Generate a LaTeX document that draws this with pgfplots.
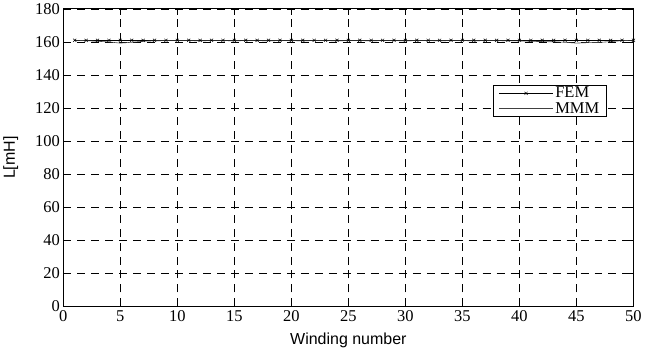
\documentclass[border=0pt]{standalone}
\usepackage{fontspec}
\setmainfont{Liberation Serif}
\newfontfamily\arialf{Liberation Sans}
\usepackage{pgfplots}
\pgfplotsset{compat=1.18}
\begin{document}
\begin{tikzpicture}
\begin{axis}[
  scale only axis,
  width=571pt, height=298pt,
  xmin=0, xmax=50, ymin=0, ymax=180,
  xtick={0,5,...,50}, ytick={0,20,...,180},
  tick align=inside, tick style={black, line width=0.6pt}, major tick length=6pt,
  grid=major, grid style={black, dashed, dash pattern=on 8pt off 6pt, line width=0.6pt},
  axis line style={black, line width=0.8pt},
  ticklabel style={font=\fontsize{16.5}{18}\selectfont},
  xticklabel style={yshift=-1pt},
  yticklabel style={xshift=0pt},
  /pgf/number format/assume math mode=true,
  xlabel={\arialf\fontsize{16}{18}\selectfont Winding number},
  ylabel={\arialf\fontsize{16}{18}\selectfont L[mH]},
  xlabel style={yshift=-4pt},
  ylabel style={yshift=10pt},
  legend style={at={(0.953,0.745)}, anchor=north east, draw=black, line width=0.8pt,
    font=\fontsize{16.5}{18}\selectfont, row sep=-1pt, inner xsep=5pt, inner ysep=0pt},
  legend cell align=left,
  legend image code/.code={\draw[mark repeat=2,mark phase=2,#1] plot coordinates {(0pt,0pt) (27pt,0pt) (54pt,0pt)};},
]
\addplot[black, line width=0.5pt, mark=x, mark size=2.2pt, mark options={line width=0.5pt}]
coordinates {
(1,161)(2,161)(3,161)(4,161)(5,161)(6,161)(7,161)(8,161)(9,161)(10,161)
(11,161)(12,161)(13,161)(14,161)(15,161)(16,161)(17,161)(18,161)(19,161)(20,161)
(21,161)(22,161)(23,161)(24,161)(25,161)(26,161)(27,161)(28,161)(29,161)(30,161)
(31,161)(32,161)(33,161)(34,161)(35,161)(36,161)(37,161)(38,161)(39,161)(40,161)
(41,161)(42,161)(43,161)(44,161)(45,161)(46,161)(47,161)(48,161)(49,161)(50,161)
};
\addlegendentry{FEM}
\addplot[black!75, line width=0.6pt] coordinates {
(1,161)(2,160.8)(3,160.4)(4,160)(5,159.3)(6,159.8)(7,160.4)(8,160.7)(9,160.8)(10,160.8)
(11,160.8)(12,160.7)(13,160.8)(14,160.8)(15,160.7)(16,160.8)(17,160.8)(18,160.7)(19,160.8)(20,160.8)
(21,160.7)(22,160.8)(23,160.8)(24,160.7)(25,160.8)(26,160.8)(27,160.7)(28,160.8)(29,160.8)(30,160.7)
(31,160.8)(32,160.8)(33,160.7)(34,160.8)(35,160.8)(36,160.7)(37,160.8)(38,160.8)(39,160.7)(40,160.6)
(41,160.4)(42,160.2)(43,160.1)(44,159.8)(45,159.3)(46,159.6)(47,159.7)(48,160.2)(49,160.8)(50,161)
};
\addlegendentry{MMM}
\end{axis}
\end{tikzpicture}
\end{document}
